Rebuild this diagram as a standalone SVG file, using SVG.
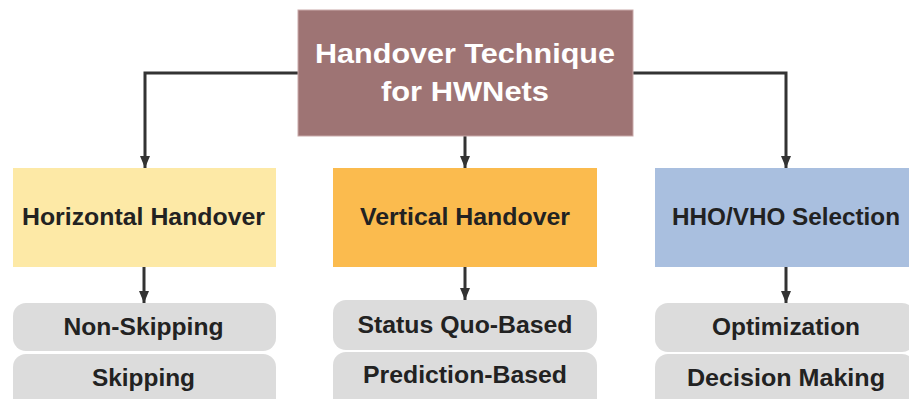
<svg xmlns="http://www.w3.org/2000/svg" width="909" height="399" viewBox="0 0 909 399">
<defs>
<marker id="arr" viewBox="0 0 12 10" refX="12" refY="5" markerWidth="12" markerHeight="10" markerUnits="userSpaceOnUse" orient="auto">
<path d="M0,0 L12,5 L0,10 Z" fill="#333333"/>
</marker>
<style>
.lbl{font-family:"Liberation Sans",Arial,sans-serif;font-weight:bold;text-anchor:middle;fill:#222222}
.top{font-family:"Liberation Sans",Arial,sans-serif;font-weight:bold;text-anchor:middle;fill:#ffffff;font-size:28.5px}
.pill{fill:#dcdcdc}
.conn{fill:none;stroke:#333333;stroke-width:3;marker-end:url(#arr)}
</style>
</defs>
<rect width="909" height="399" fill="#ffffff"/>
<g id="connectors">
<path class="conn" d="M298,73 H145 V168"/>
<path class="conn" d="M465,136 V168"/>
<path class="conn" d="M633,73 H786 V168"/>
<path class="conn" d="M144,267 V303"/>
<path class="conn" d="M465,267 V300"/>
<path class="conn" d="M786,267 V303"/>
</g>
<g id="root">
<rect x="298" y="10" width="335" height="126" fill="#9e7474" stroke="#c9a9a9" stroke-width="1"/>
<text class="top" x="465" y="63" textLength="300" lengthAdjust="spacingAndGlyphs">Handover Technique</text>
<text class="top" x="465" y="101" textLength="168" lengthAdjust="spacingAndGlyphs">for HWNets</text>
</g>
<g id="horizontal">
<rect x="13" y="168" width="263" height="99" fill="#fde9a6"/>
<text class="lbl" x="143.5" y="225" font-size="24" textLength="243" lengthAdjust="spacingAndGlyphs">Horizontal Handover</text>
</g>
<g id="vertical">
<rect x="333" y="168" width="264" height="99" fill="#fbbb4e"/>
<text class="lbl" x="465" y="225" font-size="24" textLength="210" lengthAdjust="spacingAndGlyphs">Vertical Handover</text>
</g>
<g id="selection">
<rect x="655" y="168" width="260" height="99" fill="#a9bfdf"/>
<text class="lbl" x="786" y="225" font-size="24" textLength="228" lengthAdjust="spacingAndGlyphs">HHO/VHO Selection</text>
</g>
<g id="non-skipping">
<rect class="pill" x="13" y="303" width="263" height="48" rx="13"/>
<text class="lbl" x="143.5" y="335" font-size="24" textLength="160" lengthAdjust="spacingAndGlyphs">Non-Skipping</text>
</g>
<g id="skipping">
<rect class="pill" x="13" y="354" width="263" height="60" rx="13"/>
<text class="lbl" x="143.5" y="386" font-size="24" textLength="103" lengthAdjust="spacingAndGlyphs">Skipping</text>
</g>
<g id="status-quo">
<rect class="pill" x="333" y="300" width="264" height="50" rx="13"/>
<text class="lbl" x="465" y="333" font-size="23.5" textLength="215" lengthAdjust="spacingAndGlyphs">Status Quo-Based</text>
</g>
<g id="prediction">
<rect class="pill" x="333" y="352" width="264" height="60" rx="13"/>
<text class="lbl" x="465" y="383" font-size="23.5" textLength="204" lengthAdjust="spacingAndGlyphs">Prediction-Based</text>
</g>
<g id="optimization">
<rect class="pill" x="655" y="303" width="260" height="49" rx="13"/>
<text class="lbl" x="786" y="335" font-size="24" textLength="148" lengthAdjust="spacingAndGlyphs">Optimization</text>
</g>
<g id="decision">
<rect class="pill" x="655" y="354" width="260" height="60" rx="13"/>
<text class="lbl" x="786" y="386" font-size="24" textLength="198" lengthAdjust="spacingAndGlyphs">Decision Making</text>
</g>
</svg>
